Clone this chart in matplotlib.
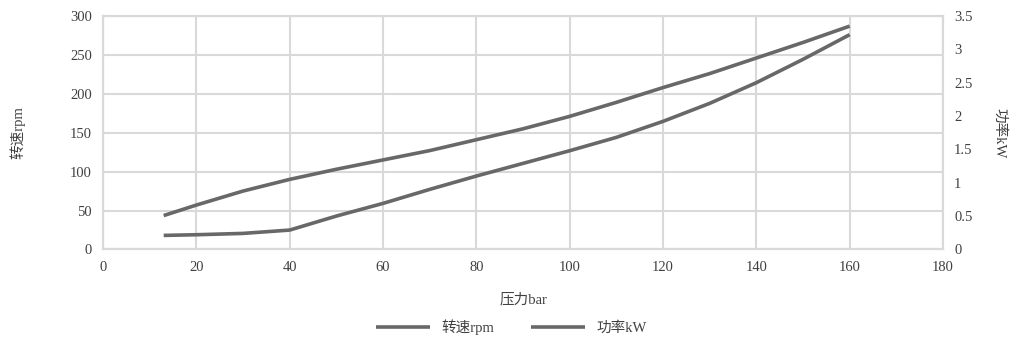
import matplotlib
matplotlib.use("Agg")
import matplotlib.pyplot as plt

plt.rcParams['font.family'] = ['Liberation Serif', 'Noto Sans CJK SC', 'DejaVu Sans']

pressure = [13, 20, 30, 40, 50, 60, 70, 80, 90, 100, 110, 120, 130, 140, 150, 160]
speed_rpm = [43.5, 57, 75, 90, 103, 115, 127, 141, 155, 171, 189, 208, 226, 246, 266, 287]
power_kw = [0.21, 0.22, 0.24, 0.29, 0.50, 0.69, 0.90, 1.10, 1.29, 1.48, 1.68, 1.92, 2.19, 2.50, 2.85, 3.22]

x_ticks = [0, 20, 40, 60, 80, 100, 120, 140, 160, 180]
left_ticks = [0, 50, 100, 150, 200, 250, 300]
right_ticks = [0, 0.5, 1, 1.5, 2, 2.5, 3, 3.5]
right_labels = ['0', '0.5', '1', '1.5', '2', '2.5', '3', '3.5']

label_speed = '转速rpm'
label_power = '功率kW'
label_x = '压力bar'

fig = plt.figure(figsize=(10.23, 3.48), dpi=100)
ax = fig.add_axes([0.1007, 0.2833, 0.8211, 0.6707])
ax2 = ax.twinx()

line_color = '#686868'
grid_color = '#d9d9d9'
text_color = '#404040'

l1, = ax.plot(pressure, speed_rpm, color=line_color, lw=2.6, label=label_speed, solid_capstyle='butt')
l2, = ax2.plot(pressure, power_kw, color=line_color, lw=2.6, label=label_power, solid_capstyle='butt')

ax.set_xlim(0, 180)
ax.set_ylim(0, 300)
ax2.set_ylim(0, 3.5)
ax.set_xticks(x_ticks)
ax.set_yticks(left_ticks)
ax2.set_yticks(right_ticks)
ax2.set_yticklabels(right_labels)

ax.grid(True, color=grid_color, lw=1.5)
ax.set_axisbelow(True)
for a in (ax, ax2):
    for s in a.spines.values():
        s.set_color(grid_color)
        s.set_linewidth(1.5)
    a.tick_params(length=0, labelsize=10.5, colors=text_color)
ax.tick_params(axis='x', pad=8)
ax.tick_params(axis='y', pad=8)
ax2.tick_params(axis='y', pad=8)

ax.set_xlabel(label_x, fontsize=10.5, color=text_color, labelpad=14)
ax.set_ylabel(label_speed, fontsize=10.5, color=text_color, labelpad=32)
ax2.set_ylabel(label_power, fontsize=10.5, color=text_color, rotation=270, labelpad=24)

fig.legend(handles=[l1, l2], loc='center', bbox_to_anchor=(0.5, 0.06), ncol=2,
           frameon=False, fontsize=10.5, handlelength=3.7, columnspacing=2.5,
           labelcolor=text_color)

fig.savefig('out.png', dpi=100, facecolor='white')
